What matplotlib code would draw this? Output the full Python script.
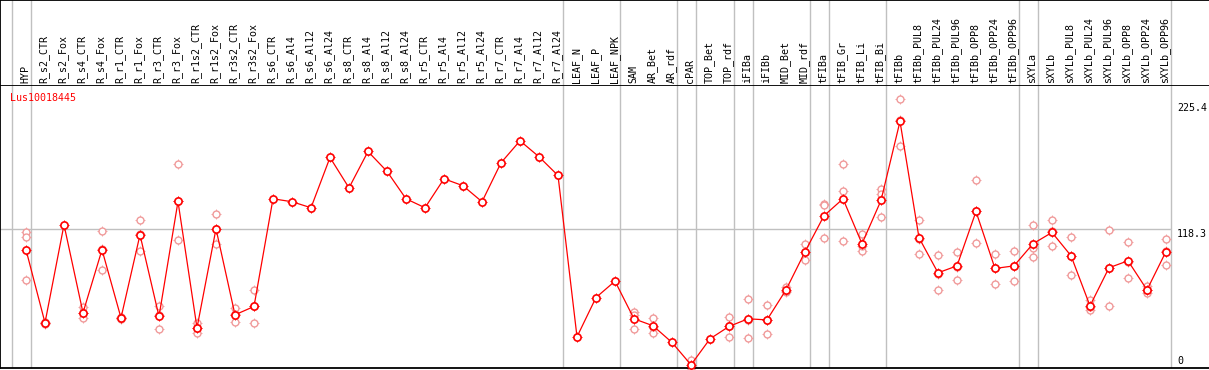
import matplotlib
matplotlib.use("Agg")
import matplotlib.pyplot as plt
import numpy as np

plt.rcParams['font.family'] = 'DejaVu Sans Mono'

gene = "Lus10018445"

samples = ["HYP", "R_s2_CTR", "R_s2_Fox", "R_s4_CTR", "R_s4_Fox", "R_r1_CTR", "R_r1_Fox",
           "R_r3_CTR", "R_r3_Fox", "R_r1s2_CTR", "R_r1s2_Fox", "R_r3s2_CTR", "R_r3s2_Fox",
           "R_s6_CTR", "R_s6_Al4", "R_s6_Al12", "R_s6_Al24", "R_s8_CTR", "R_s8_Al4",
           "R_s8_Al12", "R_s8_Al24", "R_r5_CTR", "R_r5_Al4", "R_r5_Al12", "R_r5_Al24",
           "R_r7_CTR", "R_r7_Al4", "R_r7_Al12", "R_r7_Al24", "LEAF_N", "LEAF_P", "LEAF_NPK",
           "SAM", "AR_Bet", "AR_rdf", "cPAR", "TOP_Bet", "TOP_rdf", "iFIBa", "iFIBb",
           "MID_Bet", "MID_rdf", "tFIBa", "tFIB_Gr", "tFIB_Li", "tFIB_Bi", "tFIBb",
           "tFIBb_PUL8", "tFIBb_PUL24", "tFIBb_PUL96", "tFIBb_OPP8", "tFIBb_OPP24",
           "tFIBb_OPP96", "sXYLa", "sXYLb", "sXYLb_PUL8", "sXYLb_PUL24", "sXYLb_PUL96",
           "sXYLb_OPP8", "sXYLb_OPP24", "sXYLb_OPP96"]

means = [100.5, 38.4, 121.7, 46.9, 100.5, 42.6, 113.2, 43.8, 141.5, 34.1, 118.3, 45.2, 52.3,
         143.8, 141.3, 136.2, 178.9, 153.1, 184.0, 167.1, 143.8, 136.2, 160.8, 154.9, 141.3,
         174.4, 193.1, 179.5, 163.6, 26.5, 59.9, 73.8, 41.8, 35.9, 21.7, 2.7, 24.8, 35.3,
         41.8, 40.9, 66.4, 98.8, 129.4, 143.8, 105.6, 142.4, 209.6, 110.7, 80.9, 86.8,
         133.0, 84.6, 86.8, 105.6, 115.2, 95.4, 52.8, 85.2, 91.1, 66.4, 99.0]

replicates = {
    0: [115.5, 111.2, 74.4], 1: [37.6, 38.4, 39.2], 3: [51.7, 42.4, 46.9],
    4: [116.6, 83.4, 101.5], 5: [42.0, 42.6, 43.2], 6: [126.0, 99.3, 114.3],
    7: [53.1, 33.3, 45.0], 8: [173.6, 109.2, 141.7], 9: [38.4, 29.9, 34.3],
    10: [131.1, 105.6, 118.3], 11: [50.9, 39.0, 45.7], 12: [65.9, 38.4, 52.6],
    32: [48.0, 45.2, 33.3], 33: [42.6, 29.9, 35.2], 35: [7.2, 0.9, 0.0],
    37: [43.5, 26.5, 35.9], 38: [58.8, 25.6, 41.0], 39: [53.7, 28.5, 40.5],
    40: [68.7, 65.0, 65.6], 41: [105.6, 92.2, 98.6], 42: [139.6, 138.7, 110.7],
    43: [173.0, 150.6, 108.1], 44: [113.5, 99.3, 103.9], 45: [152.0, 148.1, 128.5],
    46: [228.8, 188.9, 211.1], 47: [125.4, 97.1, 109.6], 48: [96.2, 66.4, 80.1],
    49: [99.0, 75.2, 86.2], 50: [159.4, 106.4, 133.2], 51: [97.1, 71.6, 85.1],
    52: [99.6, 74.1, 86.7], 53: [121.2, 101.9, 94.2], 54: [125.4, 103.9, 116.3],
    55: [111.5, 79.2, 95.5], 56: [57.4, 49.5, 51.5], 57: [117.7, 53.1, 84.8],
    58: [107.3, 76.1, 89.9], 59: [69.3, 63.6, 66.3], 60: [109.8, 87.7, 99.5],
}

# last sample index of each tissue group
group_ends = [-1, 0, 28, 31, 34, 35, 37, 38, 41, 42, 45, 52, 53, 60]

y_max_label = 225.4
y_mid_label = 118.3

W, H = 1209, 370
fig = plt.figure(figsize=(W / 100, H / 100), dpi=100)

xlim = (-26 / 19, (W - 26) / 19)
ax = fig.add_axes([0, (H - 368) / H, 1, 283 / H])
head = fig.add_axes([0, (H - 85) / H, 1, 85 / H])

x = np.arange(len(samples))
for i, reps in replicates.items():
    ax.plot([i] * len(reps), reps, '+', ms=6.8, color='#f09a9a', mew=0.6, zorder=1.5,
            clip_on=False)
    ax.plot([i] * len(reps), reps, 'o', ms=5.0, mfc='white', mec='#f09a9a', mew=1.0,
            zorder=2, clip_on=False)

ax.plot(x, means, '-', color='red', lw=0.9, zorder=3)
ax.plot(x, means, '+', ms=7.2, color='red', mew=0.7, zorder=3.5, clip_on=False)
ax.plot(x, means, 'o', ms=5.2, mfc='white', mec='red', mew=1.2, zorder=4, clip_on=False)

ax.hlines(y_mid_label, xlim[0], group_ends[-1] + 0.25, color='#c0c0c0', lw=1, zorder=0)
ax.set_xlim(xlim)
ax.set_ylim(0, 283 / 1.1767)
ax.set_xticks([])
ax.set_yticks([])
ax.spines['right'].set_visible(False)
for s in ['top', 'bottom', 'left']:
    ax.spines[s].set_linewidth(1.3)

for e in group_ends:
    ax.axvline(e + 0.25, color='#c0c0c0', lw=1, zorder=0)
    head.axvline(e + 0.25, color='#c0c0c0', lw=1, zorder=0)

lab_x = (1177 - 26) / 19
ax.text(lab_x, y_max_label, str(y_max_label), ha='left', va='top', fontsize=7.2, clip_on=False)
ax.text(lab_x, y_mid_label, str(y_mid_label), ha='left', va='top', fontsize=7.2, clip_on=False)
ax.text(lab_x, 1.5, "0", ha='left', va='bottom', fontsize=7.2, clip_on=False)
fig.text(10 / W, 1 - 98 / H, gene, color='red', ha='left', va='center', fontsize=7.2)

head.set_xlim(xlim)
head.set_ylim(0, 85)
head.set_xticks([])
head.set_yticks([])
head.spines['right'].set_visible(False)
head.spines['bottom'].set_visible(False)
head.spines['top'].set_linewidth(1.3)
head.spines['left'].set_linewidth(1.3)
for i, s in enumerate(samples):
    head.text(i - 0.05, 2, s, rotation=90, ha='center', va='bottom', fontsize=7.2)

fig.savefig("out.png", dpi=100)
